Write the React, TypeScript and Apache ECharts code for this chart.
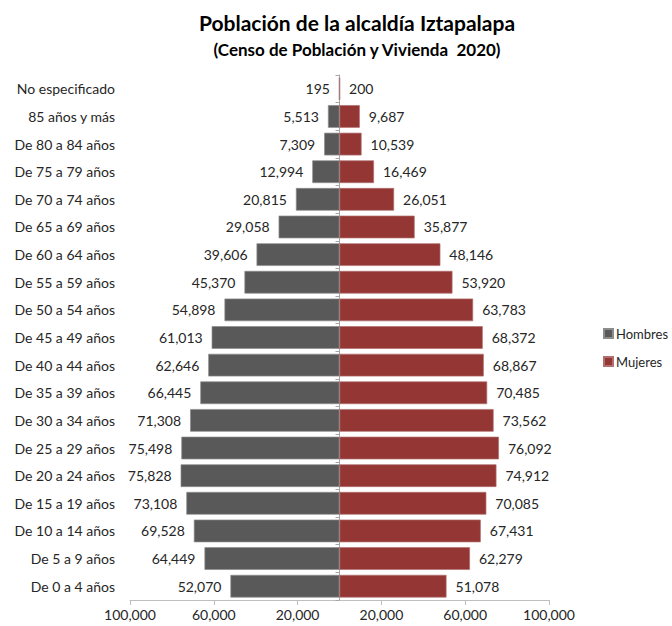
import React, { useEffect, useRef } from "react";
import * as echarts from "echarts";

const categories = [
  "No especificado",
  "85 años y más",
  "De 80 a 84 años",
  "De 75 a 79 años",
  "De 70 a 74 años",
  "De 65 a 69 años",
  "De 60 a 64 años",
  "De 55 a 59 años",
  "De 50 a 54 años",
  "De 45 a 49 años",
  "De 40 a 44 años",
  "De 35 a 39 años",
  "De 30 a 34 años",
  "De 25 a 29 años",
  "De 20 a 24 años",
  "De 15 a 19 años",
  "De 10 a 14 años",
  "De 5 a 9 años",
  "De 0 a 4 años",
];

const hombres = [
  195, 5513, 7309, 12994, 20815, 29058, 39606, 45370, 54898, 61013, 62646,
  66445, 71308, 75498, 75828, 73108, 69528, 64449, 52070,
];

const mujeres = [
  200, 9687, 10539, 16469, 26051, 35877, 48146, 53920, 63783, 68372, 68867,
  70485, 73562, 76092, 74912, 70085, 67431, 62279, 51078,
];

const tickValues = [-100000, -60000, -20000, 20000, 60000, 100000];

const FONT = "Lato, 'Open Sans', sans-serif";
const fmt = (v: number) => Math.abs(v).toLocaleString("en-US");

export default function App() {
  const ref = useRef<HTMLDivElement>(null);
  useEffect(() => {
    if (!ref.current) return;
    document.body.style.margin = "0";
    const chart = echarts.init(ref.current, null, { renderer: "svg" });
    chart.setOption({
      animation: false,
      backgroundColor: "#ffffff",
      textStyle: { fontFamily: FONT },
      title: [
        {
          text: "Población de la alcaldía Iztapalapa",
          left: 352,
          textAlign: "center",
          top: 7,
          textStyle: { fontFamily: FONT, fontSize: 21, fontWeight: "bold", color: "#000" },
        },
        {
          text: "(Censo de Población y Vivienda  2020)",
          left: 352,
          textAlign: "center",
          top: 36,
          textStyle: { fontFamily: FONT, fontSize: 17, fontWeight: "bold", color: "#000" },
        },
      ],
      legend: {
        orient: "vertical",
        left: 598,
        top: 322,
        itemWidth: 9,
        itemHeight: 9,
        itemGap: 15,
        icon: "rect",
        textStyle: { fontFamily: FONT, fontSize: 13, color: "#262626", padding: [0, 0, 0, -2] },
        data: ["Hombres", "Mujeres"],
      },
      grid: { left: 130, right: 123, top: 75, bottom: 26, containLabel: false },
      xAxis: {
        type: "value",
        min: -100000,
        max: 100000,
        splitLine: { show: false },
        axisLine: { show: true, lineStyle: { color: "#BFBFBF", width: 1 } },
        axisTick: {
          show: true,
          customValues: tickValues,
          length: 5,
          lineStyle: { color: "#BFBFBF" },
        },
        axisLabel: {
          customValues: tickValues,
          formatter: (v: number) => fmt(v),
          fontFamily: FONT,
          fontSize: 14,
          color: "#262626",
          margin: 7,
        },
      },
      yAxis: [
        {
          type: "category",
          data: categories,
          inverse: true,
          position: "left",
          axisLine: { show: false, onZero: false },
          axisTick: { show: false },
          axisLabel: {
            fontFamily: FONT,
            fontSize: 14,
            color: "#262626",
            margin: 15,
            align: "right",
          },
        },
        {
          type: "category",
          data: categories,
          inverse: true,
          position: "left",
          axisLine: { show: true, onZero: true, lineStyle: { color: "#A6A6A6", width: 1 } },
          axisTick: { show: true, length: 4, lineStyle: { color: "#A6A6A6" } },
          axisLabel: { show: false },
        },
      ],
      series: [
        {
          name: "Hombres",
          type: "bar",
          stack: "total",
          yAxisIndex: 0,
          data: hombres.map((v) => -v),
          barCategoryGap: "18%",
          itemStyle: { color: "#595959", borderColor: "#8C8C8C", borderWidth: 0.7 },
          label: {
            show: true,
            position: "left",
            distance: 9,
            formatter: (p: any) => fmt(p.value),
            fontFamily: FONT,
            fontSize: 14,
            color: "#262626",
          },
        },
        {
          name: "Mujeres",
          type: "bar",
          stack: "total",
          yAxisIndex: 0,
          data: mujeres,
          barCategoryGap: "18%",
          itemStyle: { color: "#943634", borderColor: "#B07070", borderWidth: 0.7 },
          label: {
            show: true,
            position: "right",
            distance: 9,
            formatter: (p: any) => fmt(p.value),
            fontFamily: FONT,
            fontSize: 14,
            color: "#262626",
          },
        },
      ],
    });
    return () => chart.dispose();
  }, []);
  return <div ref={ref} style={{ width: 672, height: 626 }} />;
}
